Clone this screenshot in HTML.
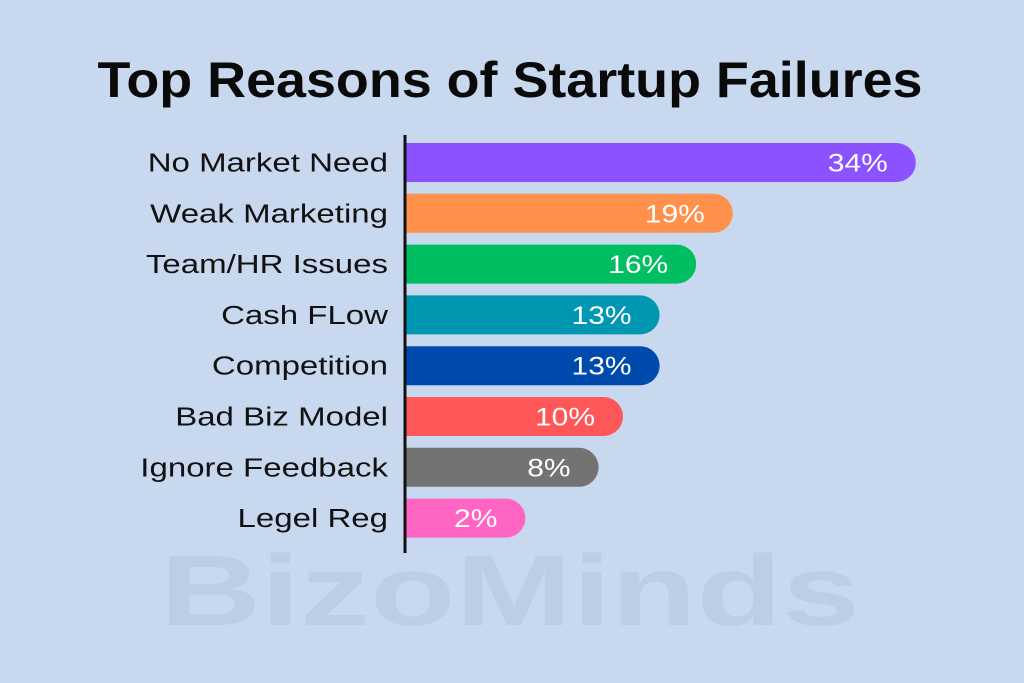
<!DOCTYPE html>
<html><head><meta charset="utf-8"><style>
html,body{margin:0;padding:0;background:#c8d8ee;}
svg{display:block;font-family:"Liberation Sans",sans-serif;}
</style></head><body>
<svg id="chart" width="1024" height="683" viewBox="0 0 1024 683" xmlns="http://www.w3.org/2000/svg">
<rect width="1024" height="683" fill="#c8d8ee"/>
<text x="510" y="625" font-size="100" font-weight="bold" fill="#bccde6" textLength="700" lengthAdjust="spacingAndGlyphs" text-anchor="middle">BizoMinds</text>
<text x="510" y="97" font-size="50" font-weight="bold" fill="#0a0a0a" text-anchor="middle" textLength="825" lengthAdjust="spacingAndGlyphs">Top Reasons of Startup Failures</text>
<g id="bars"></g>
<line x1="405" y1="135" x2="405" y2="553" stroke="#111" stroke-width="3"/>
</svg>
<script>
const categories = ["No Market Need","Weak Marketing","Team/HR Issues","Cash FLow","Competition","Bad Biz Model","Ignore Feedback","Legel Reg"];
const values = [34,19,16,13,13,10,8,2];
const valueLabels = ["34%","19%","16%","13%","13%","10%","8%","2%"];
const colors = ["#8c52ff","#ff914d","#00bf63","#0097b2","#004aad","#ff5757","#737373","#ff66c4"];
const x0 = 406, rowTop = 143, rowStep = 50.8, barH = 39;
function xScale(v){ return 95 + 12.2 * v; }
const g = document.getElementById('bars');
const NS = "http://www.w3.org/2000/svg";
categories.forEach((c,i)=>{
  const y = rowTop + i*rowStep;
  const w = xScale(values[i]);
  const r = barH/2;
  const p = document.createElementNS(NS,'path');
  p.setAttribute('d',`M${x0},${y} H${x0+w-r} A${r},${r} 0 0 1 ${x0+w-r},${y+barH} H${x0} Z`);
  p.setAttribute('fill',colors[i]);
  
  
  g.appendChild(p);
  const lab = document.createElementNS(NS,'text');
  lab.setAttribute('transform',`translate(388,${y+barH/2+9}) scale(1.27,1)`);
  lab.setAttribute('text-anchor','end'); lab.setAttribute('font-size','26'); lab.setAttribute('fill','#111');
  lab.textContent = c;
  
  
  g.appendChild(lab);
  const vl = document.createElementNS(NS,'text');
  vl.setAttribute('transform',`translate(${x0+w-28},${y+barH/2+9}) scale(1.2,1)`);
  vl.setAttribute('text-anchor','end'); vl.setAttribute('font-size','25'); vl.setAttribute('fill','#fff');
  vl.textContent = valueLabels[i];
  
  
  g.appendChild(vl);
});
</script>
</body></html>
